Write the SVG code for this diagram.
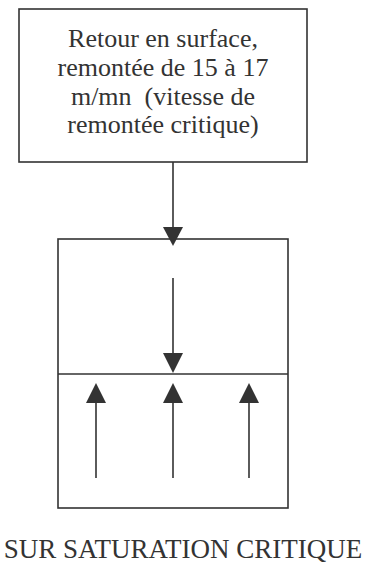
<svg xmlns="http://www.w3.org/2000/svg" width="373" height="565" viewBox="0 0 373 565">
<style>
.box{fill:#fff;stroke:#333;stroke-width:1.6}
.ln{stroke:#333;stroke-width:1.6;fill:none}
.hd{fill:#333;stroke:none}
.t{font-family:'Liberation Serif','Times New Roman',Times,serif;font-size:26px;fill:#333;text-anchor:middle}
.cap{font-size:27px}
</style>
<rect width="373" height="565" fill="#fff"/>
<g id="top-box">
<rect class="box" x="19" y="9" width="288" height="153"/>
<text class="t" x="163" xml:space="preserve"><tspan x="163" y="47">Retour en surface,</tspan><tspan x="163" y="76">remontée de 15 à 17</tspan><tspan x="163" y="105">m/mn  (vitesse de</tspan><tspan x="163" y="133">remontée critique)</tspan></text>
</g>
<g id="chamber">
<rect class="box" x="58" y="239" width="230" height="269"/>
<line class="ln" x1="58" y1="374" x2="288" y2="374"/>
</g>
<g id="connectors">
<line class="ln" x1="173" y1="162" x2="173" y2="228"/>
<polygon class="hd" points="163,227 183,227 173,246"/>
<line class="ln" x1="173" y1="278" x2="173" y2="354"/>
<polygon class="hd" points="163,353 183,353 173,373"/>
<line class="ln" x1="96" y1="402" x2="96" y2="478"/>
<polygon class="hd" points="86,403 106,403 96,383"/>
<line class="ln" x1="173" y1="402" x2="173" y2="478"/>
<polygon class="hd" points="163,403 183,403 173,383"/>
<line class="ln" x1="249" y1="402" x2="249" y2="478"/>
<polygon class="hd" points="239,403 259,403 249,383"/>
</g>
<g id="caption">
<text class="t cap" x="183" y="558">SUR SATURATION CRITIQUE</text>
</g>
</svg>
